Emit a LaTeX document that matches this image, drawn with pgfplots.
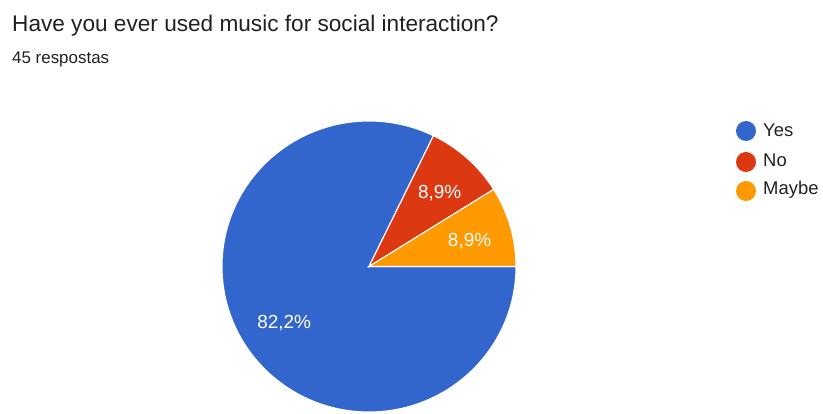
\documentclass[border=0pt]{standalone}
\usepackage{pgfplots}
\usepackage{pgfplotstable}
\pgfplotsset{compat=1.18}
\usetikzlibrary{calc}
\usepackage{fontspec}
\setmainfont{Liberation Sans}
\definecolor{pieblue}{HTML}{3366CC}
\definecolor{piered}{HTML}{DC3912}
\definecolor{pieorange}{HTML}{FF9900}
\definecolor{titletext}{HTML}{202124}
\pgfplotstableread{
label count
Yes 37
No 4
Maybe 4
}\piedata
\begin{document}
\begin{tikzpicture}
\pgfplotstablegetelem{0}{count}\of\piedata \edef\cA{\pgfplotsretval}
\pgfplotstablegetelem{1}{count}\of\piedata \edef\cB{\pgfplotsretval}
\pgfplotstablegetelem{2}{count}\of\piedata \edef\cC{\pgfplotsretval}
\pgfmathsetmacro{\tot}{\cA+\cB+\cC}
% clockwise from 3 o'clock: Yes, then (going back) No, Maybe
\pgfmathsetmacro{\aA}{360*\cA/\tot}
\pgfmathsetmacro{\aB}{360*\cB/\tot}
\pgfmathsetmacro{\aC}{360*\cC/\tot}
\pgfmathsetmacro{\endA}{-\aA}
\pgfmathsetmacro{\startB}{\aB+\aC}
\pgfmathsetmacro{\midA}{-\aA/2}
\pgfmathsetmacro{\midB}{\aC+\aB/2}
\pgfmathsetmacro{\midC}{\aC/2}
\begin{axis}[
  name=main,
  scale only axis, width=823bp, height=414bp,
  xmin=0, xmax=823, ymin=0, ymax=414,
  hide axis, clip=true,
]
\def\cx{369}\def\cy{147.5}
\fill[pieblue, draw=white, line width=1.1pt] (axis cs:\cx,\cy) -- ++(0:147bp and 145.5bp) arc[start angle=0, end angle=\endA, x radius=147bp, y radius=145.5bp] -- cycle;
\fill[piered, draw=white, line width=1.1pt] (axis cs:\cx,\cy) -- ++(\startB:147bp and 145.5bp) arc[start angle=\startB, end angle=\aC, x radius=147bp, y radius=145.5bp] -- cycle;
\fill[pieorange, draw=white, line width=1.1pt] (axis cs:\cx,\cy) -- ++(\aC:147bp and 145.5bp) arc[start angle=\aC, end angle=0, x radius=147bp, y radius=145.5bp] -- cycle;
\node[white, font=\fontsize{19}{22}\selectfont, xshift=2.5bp, yshift=-2.5bp] at ($(axis cs:\cx,\cy)+(\midA:103bp)$) {82,2\%};
\node[white, font=\fontsize{19}{22}\selectfont, xshift=2.5bp, yshift=-2.5bp] at ($(axis cs:\cx,\cy)+(\midB:102bp)$) {8,9\%};
\node[white, font=\fontsize{19}{22}\selectfont, xshift=2.5bp, yshift=-2.5bp] at ($(axis cs:\cx,\cy)+(\midC:102bp)$) {8,9\%};
% legend
\fill[pieblue] (axis cs:746,283) circle[radius=10bp];
\fill[piered] (axis cs:746,252) circle[radius=10bp];
\fill[pieorange] (axis cs:746,223) circle[radius=10bp];
\node[anchor=base west, inner sep=0pt, text=titletext, font=\fontsize{18.5}{21}\selectfont] at (axis cs:763,277) {Yes};
\node[anchor=base west, inner sep=0pt, text=titletext, font=\fontsize{18.5}{21}\selectfont] at (axis cs:763,247) {No};
\node[anchor=base west, inner sep=0pt, text=titletext, font=\fontsize{18.5}{21}\selectfont] at (axis cs:763,219) {Maybe};
% titles
\node[anchor=base west, inner sep=0pt, text=titletext, font=\fontsize{22.7}{26}\selectfont] at (axis cs:12,382) {Have you ever used music for social interaction?};
\node[anchor=base west, inner sep=0pt, text=titletext, font=\fontsize{17}{20}\selectfont] at (axis cs:12,350) {45 respostas};
\end{axis}
\pgfresetboundingbox
\useasboundingbox (main.south west) rectangle (main.north east);
\end{tikzpicture}
\end{document}
